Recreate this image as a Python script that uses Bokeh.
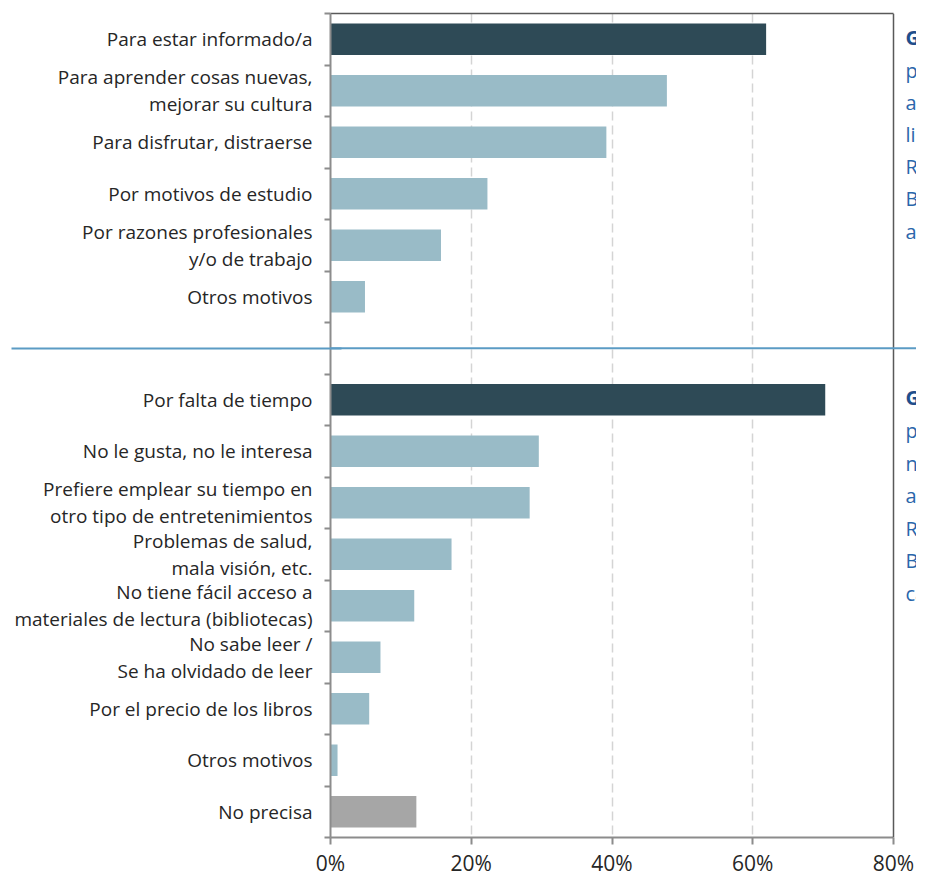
from bokeh.plotting import figure
from bokeh.models import (ColumnDataSource, Range1d, FixedTicker, PrintfTickFormatter,
                          LinearAxis, Span)
from bokeh.embed import file_html
from bokeh.resources import INLINE
from bokeh.core.properties import value

# ---------------- data ----------------
top_labels = ["Para estar informado/a",
              "Para aprender cosas nuevas,\nmejorar su cultura",
              "Para disfrutar, distraerse",
              "Por motivos de estudio",
              "Por razones profesionales\ny/o de trabajo",
              "Otros motivos"]
top_values = [61.9, 47.8, 39.2, 22.3, 15.7, 4.9]

bottom_labels = ["Por falta de tiempo",
                 "No le gusta, no le interesa",
                 "Prefiere emplear su tiempo en\notro tipo de entretenimientos",
                 "Problemas de salud,\nmala visión, etc.",
                 "No tiene fácil acceso a\nmateriales de lectura (bibliotecas)",
                 "No sabe leer /\nSe ha olvidado de leer",
                 "Por el precio de los libros",
                 "Otros motivos",
                 "No precisa"]
bottom_values = [70.3, 29.6, 28.3, 17.2, 11.9, 7.1, 5.5, 1.0, 12.2]

x_ticks = [0, 20, 40, 60, 80]

top_title = ["Gráfico 5. Motivos", "por los que lee", "al menos un", "libro al año",
             "Resultados en %", "Base: lectores", "anuales"]
bottom_title = ["Gráfico 6. Motivos", "por los que", "no lee", "algún libro",
                "Resultados en %", "Base: no lectores", "casi nunca"]

# ---------------- styles ----------------
DARK = "#2e4a56"
LIGHT = "#99bbc7"
GREY = "#a6a6a6"
TXT = "#262626"
BLUE = "#2a66ab"
AXIS = "#8c8c8c"
FRAME = "#595959"
SEP = "#5b9bc4"
FONT = "Open Sans"

W, H = 916, 879
FL, FR = 330, 893           # frame left / position of 80 %
XMAX = 80 * (W - FL) / (FR - FL)

n_top, n_bot = len(top_labels), len(bottom_labels)
nrows = n_top + 1 + n_bot
# y in half-row units: row r has its centre at 2r+1
rows = list(range(n_top)) + [n_top + 1 + i for i in range(n_bot)]
ypos = [2 * r + 1 for r in rows]
sep_y = 2 * n_top + 1

labels = top_labels + bottom_labels
values = top_values + bottom_values
colors = [DARK if i == 0 else LIGHT for i in range(n_top)]
colors += [DARK if i == 0 else (GREY if lab == "No precisa" else LIGHT)
           for i, lab in enumerate(bottom_labels)]

bars = ColumnDataSource(dict(y=ypos, v=values, c=colors))

p = figure(width=W, height=H, output_backend="svg", toolbar_location=None,
           x_range=Range1d(0, XMAX), y_range=Range1d(2 * nrows, 0),
           min_border_left=FL, min_border_right=0, min_border_top=13,
           min_border_bottom=39)
p.background_fill_color = "white"
p.border_fill_color = "white"
p.outline_line_color = None

# grid
p.ygrid.visible = False
p.xgrid.ticker = FixedTicker(ticks=x_ticks[1:-1])
p.xgrid.grid_line_color = "#d4d4d4"
p.xgrid.grid_line_dash = "9 5"
p.xgrid.grid_line_width = 1.5

p.hbar(y="y", right="v", left=0, height=1.22, fill_color="c", line_color=None,
       source=bars)

# right border of the box and separator line
p.add_layout(Span(location=80, dimension="height", line_color=FRAME, line_width=1.5))
p.add_layout(Span(location=sep_y, dimension="width", line_color=SEP, line_width=2))

# captions at the right (cut off by the page edge)
cap_y_top = [0.95 + 1.25 * k for k in range(len(top_title))]
cap_y_bot = [14.93 + 1.265 * k for k in range(len(bottom_title))]
cap_first = ColumnDataSource(dict(x=[80, 80], y=[cap_y_top[0], cap_y_bot[0]],
                                  t=[top_title[0], bottom_title[0]]))
cap_rest = ColumnDataSource(dict(x=[80] * (len(top_title) + len(bottom_title) - 2),
                                 y=cap_y_top[1:] + cap_y_bot[1:],
                                 t=top_title[1:] + bottom_title[1:]))
p.text(x="x", y="y", text="t", source=cap_first, x_offset=12, text_baseline="middle",
       text_font=value(FONT), text_font_size="20px", text_font_style="bold",
       text_color="#1f4e8c")
p.text(x="x", y="y", text="t", source=cap_rest, x_offset=12, text_baseline="middle",
       text_font=value(FONT), text_font_size="20px", text_color=BLUE)

# x axis
xa = p.xaxis[0]
xa.bounds = (0, 80)
xa.ticker = FixedTicker(ticks=x_ticks)
xa.formatter = PrintfTickFormatter(format="%d%%")
xa.axis_line_color = AXIS
xa.axis_line_width = 2
xa.major_tick_line_color = AXIS
xa.major_tick_line_width = 2
xa.major_tick_out = 7
xa.major_tick_in = 0
xa.minor_tick_line_color = None
xa.major_label_standoff = 4
xa.major_label_text_font = FONT
xa.major_label_text_font_size = "21px"
xa.major_label_text_color = TXT

# top border
top = LinearAxis(bounds=(0, 80), ticker=FixedTicker(ticks=[]),
                 axis_line_color=FRAME, axis_line_width=1.5,
                 major_tick_line_color=None, minor_tick_line_color=None)
p.add_layout(top, "above")

# inner y axis: ticks between the categories
ya = p.yaxis[0]
bounds_ticks = list(range(0, 2 * nrows + 1, 2))
ya.ticker = FixedTicker(ticks=bounds_ticks)
ya.major_label_overrides = {t: "" for t in bounds_ticks}
ya.major_label_standoff = 0
ya.axis_line_color = AXIS
ya.axis_line_width = 2
ya.major_tick_line_color = AXIS
ya.major_tick_line_width = 2
ya.major_tick_out = 6
ya.major_tick_in = 0
ya.minor_tick_line_color = None

# middle y axis: category labels
la = LinearAxis(ticker=FixedTicker(ticks=ypos),
                major_label_overrides={y: lab for y, lab in zip(ypos, labels)},
                axis_line_color=None, major_tick_line_color=None,
                minor_tick_line_color=None, major_tick_out=0, major_tick_in=0,
                major_label_standoff=12, major_label_text_font=FONT,
                major_label_text_font_size="19px", major_label_text_color=TXT,
                major_label_text_line_height=1.05)
p.add_layout(la, "left")

# outer y axis: carries the left part of the separator line (tick drawn inwards)
sa = LinearAxis(ticker=FixedTicker(ticks=[sep_y]), major_label_overrides={sep_y: ""},
                axis_line_color=None, minor_tick_line_color=None,
                major_tick_line_color=SEP, major_tick_line_width=2,
                major_tick_out=0, major_tick_in=FL, major_label_standoff=0)
p.add_layout(sa, "left")

open("out.html", "w").write(file_html(p, INLINE))
